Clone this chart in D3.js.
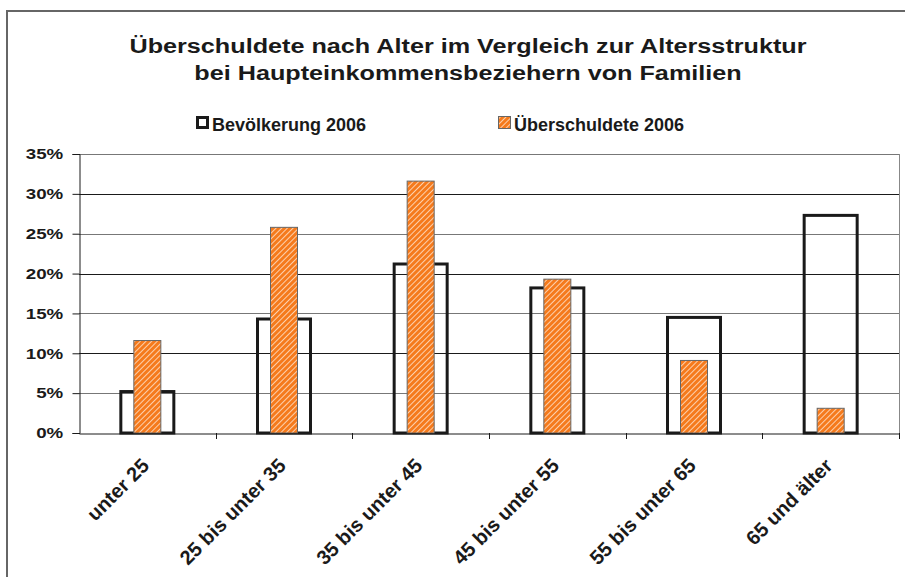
<!DOCTYPE html>
<html>
<head>
<meta charset="utf-8">
<script src="https://cdn.jsdelivr.net/npm/d3@7"></script>
<style>
  body { margin: 0; background: #fff; }
  text { font-family: "Liberation Sans", Arial, sans-serif; font-weight: bold; fill: #1a1a1a; }
</style>
</head>
<body>
<div id="chart"></div>
<script>
const categories = ['unter 25', '25 bis unter 35', '35 bis unter 45', '45 bis unter 55', '55 bis unter 65', '65 und älter'];
const bevoelkerung = [5.2, 14.3, 21.2, 18.2, 14.5, 27.3];
const ueberschuldete = [11.6, 25.8, 31.6, 19.3, 9.1, 3.1];
const yTicks = [0, 5, 10, 15, 20, 25, 30, 35];
const titleLines = ['Überschuldete nach Alter im Vergleich zur Altersstruktur', 'bei Haupteinkommensbeziehern von Familien'];
const seriesNames = ['Bevölkerung 2006', 'Überschuldete 2006'];

const width = 905, height = 577;
const plot = { left: 79, right: 899, top: 154, bottom: 433 };

const svg = d3.select('#chart').append('svg')
  .attr('width', width)
  .attr('height', height);

const defs = svg.append('defs');
const pat = defs.append('pattern')
  .attr('id', 'hatch')
  .attr('patternUnits', 'userSpaceOnUse')
  .attr('width', 4).attr('height', 4)
  .attr('patternTransform', 'rotate(45)');
pat.append('rect').attr('width', 4).attr('height', 4).attr('fill', '#f57a1c');
pat.append('rect').attr('x', 0).attr('width', 1).attr('height', 4).attr('fill', '#fcd0ad');

// outer frame
svg.append('rect')
  .attr('x', 7).attr('y', 11)
  .attr('width', 910).attr('height', 600)
  .attr('fill', 'none')
  .attr('stroke', '#666')
  .attr('stroke-width', 2);

svg.selectAll('text.title')
  .data(titleLines)
  .enter()
  .append('text')
  .attr('class', 'title')
  .attr('transform', (d, i) => `translate(468, ${53 + i * 27}) scale(1.2, 1)`)
  .attr('text-anchor', 'middle')
  .style('font-size', '21px')
  .text(d => d);

const x = d3.scaleBand()
  .domain(categories)
  .range([plot.left, plot.right]);

const y = d3.scaleLinear()
  .domain([0, 35])
  .range([plot.bottom, plot.top]);

// grid
svg.append('g')
  .selectAll('line')
  .data(yTicks.filter(d => d > 0))
  .enter()
  .append('line')
  .attr('x1', plot.left).attr('x2', plot.right)
  .attr('y1', d => Math.round(y(d)) + 0.5)
  .attr('y2', d => Math.round(y(d)) + 0.5)
  .attr('stroke', (d, i) => i % 2 ? '#1a1a1a' : '#777')
  .attr('stroke-width', 1);

// right border of plot
svg.append('line')
  .attr('x1', plot.right + 0.5).attr('x2', plot.right + 0.5)
  .attr('y1', plot.top).attr('y2', plot.bottom)
  .attr('stroke', '#888');

// y axis
const yAxis = d3.axisLeft(y)
  .tickValues(yTicks)
  .tickSize(7)
  .tickFormat(d => d + '%');

svg.append('g')
  .attr('transform', `translate(${plot.left + 0.5}, 0)`)
  .call(yAxis)
  .call(g => g.select('.domain').attr('stroke', '#1a1a1a'))
  .call(g => g.selectAll('.tick line').attr('stroke', '#1a1a1a'))
  .call(g => g.selectAll('.tick text')
    .attr('x', -13)
    .attr('transform', 'scale(1.25, 1)')
    .style('font-size', '15px')
    .style('font-family', '"Liberation Sans", Arial, sans-serif')
    .style('font-weight', 'bold')
    .attr('fill', '#1a1a1a'));

// bevoelkerung outline bars
const outerW = 53;
svg.append('g')
  .selectAll('rect')
  .data(bevoelkerung)
  .enter()
  .append('rect')
  .attr('x', (d, i) => x(categories[i]) + x.bandwidth() / 2 - outerW / 2)
  .attr('y', d => y(d))
  .attr('width', outerW)
  .attr('height', d => plot.bottom - y(d))
  .attr('fill', 'none')
  .attr('stroke', '#1a1a1a')
  .attr('stroke-width', 3);

// ueberschuldete hatched bars
const innerW = 27;
svg.append('g')
  .selectAll('rect')
  .data(ueberschuldete)
  .enter()
  .append('rect')
  .attr('x', (d, i) => x(categories[i]) + x.bandwidth() / 2 - innerW / 2)
  .attr('y', d => y(d))
  .attr('width', innerW)
  .attr('height', d => plot.bottom - y(d))
  .attr('fill', 'url(#hatch)')
  .attr('stroke', '#666')
  .attr('stroke-width', 1);

// x axis
const xAxis = d3.axisBottom(x).tickSize(0).tickFormat('');
svg.append('g')
  .attr('transform', `translate(0, ${plot.bottom + 0.5})`)
  .call(xAxis)
  .call(g => g.select('.domain').attr('stroke', '#1a1a1a'));

svg.append('g')
  .selectAll('line')
  .data(categories)
  .enter()
  .append('line')
  .attr('x1', d => Math.round(x(d) + x.bandwidth()) + 0.5)
  .attr('x2', d => Math.round(x(d) + x.bandwidth()) + 0.5)
  .attr('y1', plot.bottom)
  .attr('y2', plot.bottom + 6)
  .attr('stroke', '#1a1a1a');

svg.append('g')
  .selectAll('text')
  .data(categories)
  .enter()
  .append('text')
  .attr('transform', d => `translate(${x(d) + x.bandwidth() / 2 + 3}, ${plot.bottom + 34}) rotate(-45)`)
  .attr('text-anchor', 'end')
  .style('font-size', '20px')
  .text(d => d);

// legend
const legendX = [196, 498];
const legend = svg.append('g');
legend.append('rect')
  .attr('x', legendX[0] + 1.5).attr('y', 117.5)
  .attr('width', 10).attr('height', 10)
  .attr('fill', 'none').attr('stroke', '#1a1a1a').attr('stroke-width', 3);
legend.append('rect')
  .attr('x', legendX[1] + 0.5).attr('y', 116.5)
  .attr('width', 12).attr('height', 12)
  .attr('fill', 'url(#hatch)').attr('stroke', '#666');
legend.selectAll('text')
  .data(seriesNames)
  .enter()
  .append('text')
  .attr('x', (d, i) => legendX[i] + 16)
  .attr('y', 131)
  .style('font-size', '18px')
  .text(d => d);
</script>
</body>
</html>
